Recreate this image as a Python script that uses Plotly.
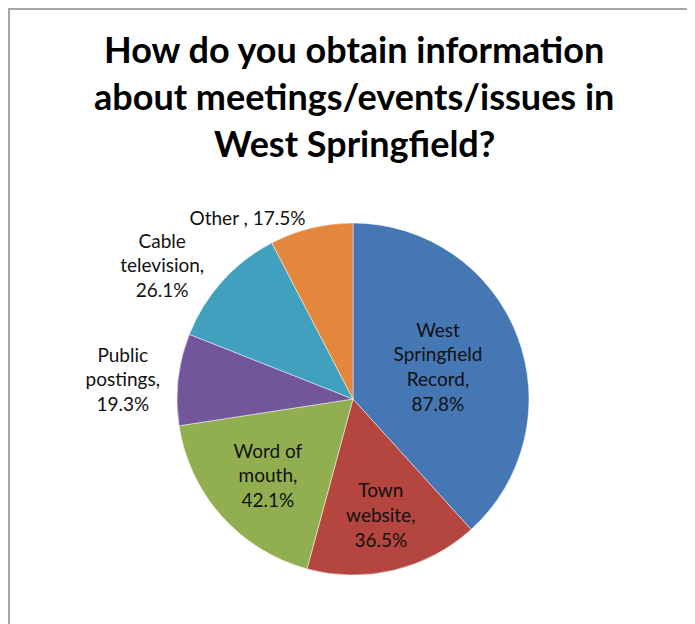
import plotly.graph_objects as go

# Data
categories = ["West Springfield Record", "Town website", "Word of mouth",
              "Public postings", "Cable television", "Other"]
display_labels = ["West<br>Springfield<br>Record,", "Town<br>website,", "Word of<br>mouth,",
                  "Public<br>postings,", "Cable<br>television,", "Other ,"]
percent_values = [87.8, 36.5, 42.1, 19.3, 26.1, 17.5]
slice_colors = ["#4677B5", "#B4463F", "#91AF50", "#73559B", "#41A0BE", "#E2873C"]
text_positions = ["inside", "inside", "inside", "outside", "outside", "outside"]
title_lines = ["How do you obtain information",
               "about meetings/events/issues in",
               "West Springfield?"]

sep = ["<br>", "<br>", "<br>", "<br>", "<br>", " "]
texts = [f"{lab}{s}{v:.1f}%" for lab, s, v in zip(display_labels, sep, percent_values)]

W, H = 695, 624
OFF = 8  # page body offset
PW, PH = W, H

cx, cy, r = 353 - OFF, 399 - OFF, 176
dom_x = [(cx - r) / PW, (cx + r) / PW]
dom_y = [(H - cy - r) / PH, (H - cy + r) / PH]

fig = go.Figure(go.Pie(
    labels=categories,
    values=percent_values,
    text=texts,
    textinfo="text",
    textposition=text_positions,
    insidetextorientation="horizontal",
    sort=False,
    direction="clockwise",
    rotation=0,
    marker=dict(colors=slice_colors, line=dict(color="rgba(255,255,255,0.6)", width=0.8)),
    textfont=dict(family="Lato", size=19, color="#111111"),
    insidetextfont=dict(family="Lato", size=19, color="#111111"),
    outsidetextfont=dict(family="Lato", size=19, color="#111111"),
    domain=dict(x=dom_x, y=dom_y),
    showlegend=False,
    hoverinfo="label+value",
))

annotations = []
for i, line in enumerate(title_lines):
    ypx = 49 + 47 * i - OFF
    annotations.append(dict(
        text=f"<b>{line}</b>", xref="paper", yref="paper",
        x=(354 - OFF) / PW, y=(H - ypx) / PH, xanchor="center", yanchor="middle",
        showarrow=False, font=dict(family="Lato", size=36, color="#000000")))

fig.update_layout(
    width=W, height=H,
    margin=dict(l=0, r=0, t=0, b=0),
    paper_bgcolor="white",
    plot_bgcolor="white",
    annotations=annotations,
    shapes=[dict(type="rect", xref="paper", yref="paper",
                 x0=1 / PW, y0=-0.05, x1=1.05, y1=1 - 1 / PH,
                 line=dict(color="#A6A6A6", width=2), fillcolor="rgba(0,0,0,0)")],
)

fig.write_html("out.html")
